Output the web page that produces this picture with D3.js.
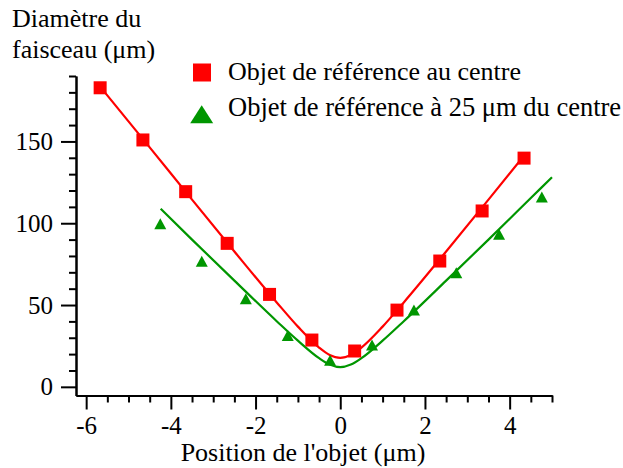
<!DOCTYPE html>
<html><head><meta charset="utf-8">
<script src="https://cdn.jsdelivr.net/npm/d3@7"></script>
<style>body{margin:0;background:#fff;}</style></head>
<body><svg id="c" width="623" height="468"></svg>
<script>
// ---- data ----
const redX = [-5.67,-4.66,-3.65,-2.67,-1.67,-0.67,0.34,1.34,2.35,3.35,4.34];
const redY = [182.8,150.9,119.3,87.7,56.5,28.6,21.9,46.9,76.9,107.5,139.8];
const greenX = [-4.25,-3.27,-2.23,-1.24,-0.24,0.75,1.74,2.74,3.75,4.76];
const greenY = [99.7,76.7,53.8,31.4,16.2,25.5,46.9,69.7,93.2,116];
const redFitX = [-5.67,-4.5,-3.5,-2.5,-1.5,-1,-0.5,-0.25,0,0.25,0.5,1,1.5,2.5,3.5,4.34];
const redFitY = [183.5,146.4,114.4,82.7,51.6,36.8,24.0,19.5,17.7,19.5,24.0,36.8,51.6,82.7,114.4,141.3];
const greenFitX = [-4.24,-3.5,-2.5,-1.5,-1,-0.5,-0.25,0,0.25,0.5,1,1.5,2.5,3.5,4.5,5.0];
const greenFitY = [108.8,90.0,64.9,40.1,28.2,17.5,13.6,12,13.6,17.5,28.2,40.1,64.9,90.0,115.4,128.1];
const xTicks = [-6,-4,-2,0,2,4];
const yTicks = [0,50,100,150];
const yTitle = ["Diamètre du","faisceau (μm)"];
const xTitle = "Position de l'objet (μm)";
const legendLabels = ["Objet de référence au centre","Objet de référence à 25 μm du centre"];

const FONT = '"Liberation Serif"';
const RED = "#ff0000", GREEN = "#009600";
const svg = d3.select("#c");
const x = d3.scaleLinear().domain([-6.24,5.0]).range([76,552]);
const y = d3.scaleLinear().domain([-5.3,190]).range([395.5,76]);
const fmt = d => String(d);

// axes
const xMinor = d3.range(-6,5.01,0.5).filter(v=>!xTicks.includes(v));
const yMinor = d3.range(10,191,10).filter(v=>!yTicks.includes(v));
const gx = svg.append("g").attr("transform","translate(0,395.5)");
gx.call(d3.axisBottom(x).tickValues(xMinor).tickSize(7).tickSizeOuter(0).tickFormat(""));
gx.append("g").call(d3.axisBottom(x).tickValues(xTicks).tickSize(14).tickSizeOuter(0).tickPadding(6).tickFormat(fmt));
const gy = svg.append("g").attr("transform","translate(76,0)");
gy.call(d3.axisLeft(y).tickValues(yMinor).tickSize(7).tickSizeOuter(0).tickFormat(""));
gy.append("g").call(d3.axisLeft(y).tickValues(yTicks).tickSize(15).tickSizeOuter(0).tickPadding(8).tickFormat(fmt));
svg.selectAll("g").attr("font-family",null);
svg.selectAll(".domain").attr("stroke","#000").attr("stroke-width",2);
svg.selectAll(".tick line").attr("stroke","#000").attr("stroke-width",2);
svg.selectAll(".tick text").style("font-family",FONT).style("font-size","25px").attr("fill","#000");
gx.selectAll(".tick text").attr("dy","0.72em");

// fit lines
const line = d3.line().x(d=>x(d[0])).y(d=>y(d[1])).curve(d3.curveMonotoneX);
svg.append("path").attr("d",line(redFitX.map((v,i)=>[v,redFitY[i]]))).attr("fill","none").attr("stroke",RED).attr("stroke-width",2.2);
svg.append("path").attr("d",line(greenFitX.map((v,i)=>[v,greenFitY[i]]))).attr("fill","none").attr("stroke",GREEN).attr("stroke-width",2.2);

// markers
function tri(cx,cy,w,h){return `M${cx-w/2},${cy+h/2}L${cx+w/2},${cy+h/2}L${cx},${cy-h/2}Z`;}
svg.append("g").selectAll("rect").data(redX.map((v,i)=>[v,redY[i]])).join("rect")
  .attr("x",d=>x(d[0])-6.5).attr("y",d=>y(d[1])-6.5).attr("width",13).attr("height",13).attr("fill",RED);
svg.append("g").selectAll("path").data(greenX.map((v,i)=>[v,greenY[i]])).join("path")
  .attr("d",d=>tri(x(d[0]),y(d[1]),12,11)).attr("fill",GREEN);

// titles
function txt(xp,yp,s,anchor,size){return svg.append("text").attr("x",xp).attr("y",yp).attr("text-anchor",anchor||"start")
  .style("font-family",FONT).style("font-size",(size||26)+"px").attr("fill","#000").text(s);}
txt(12,27,yTitle[0]);
txt(12,58,yTitle[1]);
txt(303,461,xTitle,"middle");

// legend
svg.append("rect").attr("x",193).attr("y",63.5).attr("width",18).attr("height",18).attr("fill",RED);
svg.append("path").attr("d",tri(201.7,114.2,23,18)).attr("fill",GREEN);
txt(228,80,legendLabels[0]);
txt(228,116,legendLabels[1],"start",26.5);
</script></body></html>
